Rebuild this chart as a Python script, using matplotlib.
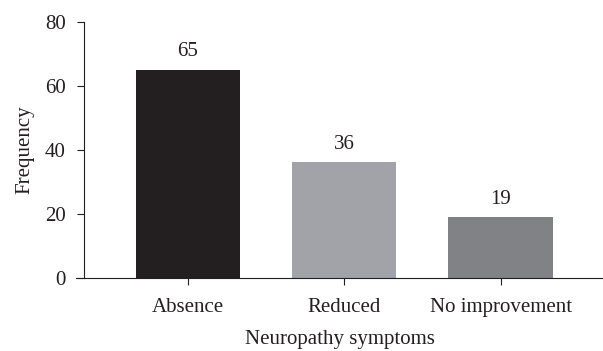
import matplotlib.pyplot as plt
import numpy as np

categories = ["Absence", "Reduced", "No improvement"]
frequency = [65, 36, 19]
bar_colors = ["#231f20", "#a1a3a8", "#808285"]

plt.rcParams['font.family'] = ['Liberation Serif', 'DejaVu Serif']

fig = plt.figure(figsize=(6.03, 3.51), dpi=100, facecolor='white')
ax = fig.add_axes([0.126, 0.209, 0.874, 0.729])

x = np.arange(len(categories))
bars = ax.bar(x, frequency, width=0.667, color=bar_colors)

for xi, v in zip(x, frequency):
    ax.annotate(str(v), (xi, v), xytext=(0, 6), textcoords='offset points',
                ha='center', va='bottom', fontsize=15, color='#231f20')

ax.set_xlim(-0.714, 2.654)
ax.set_ylim(0, 80)
ax.set_yticks([0, 20, 40, 60, 80])
ax.set_xticks(x)
ax.set_xticklabels(categories)

ax.spines['top'].set_visible(False)
ax.spines['right'].set_visible(False)
ax.spines['left'].set_position(('data', -0.663))
for s in ('left', 'bottom'):
    ax.spines[s].set_color('#231f20')
    ax.spines[s].set_linewidth(0.8)

ax.tick_params(axis='both', colors='#231f20', width=0.8, length=5, labelsize=15)
ax.tick_params(axis='y', pad=8)
ax.tick_params(axis='x', pad=10)

ax.set_xlabel("Neuropathy symptoms", fontsize=15, color='#231f20', labelpad=9)
ax.set_ylabel("Frequency", fontsize=15, color='#231f20', labelpad=8)

plt.savefig("out.png", dpi=100)
